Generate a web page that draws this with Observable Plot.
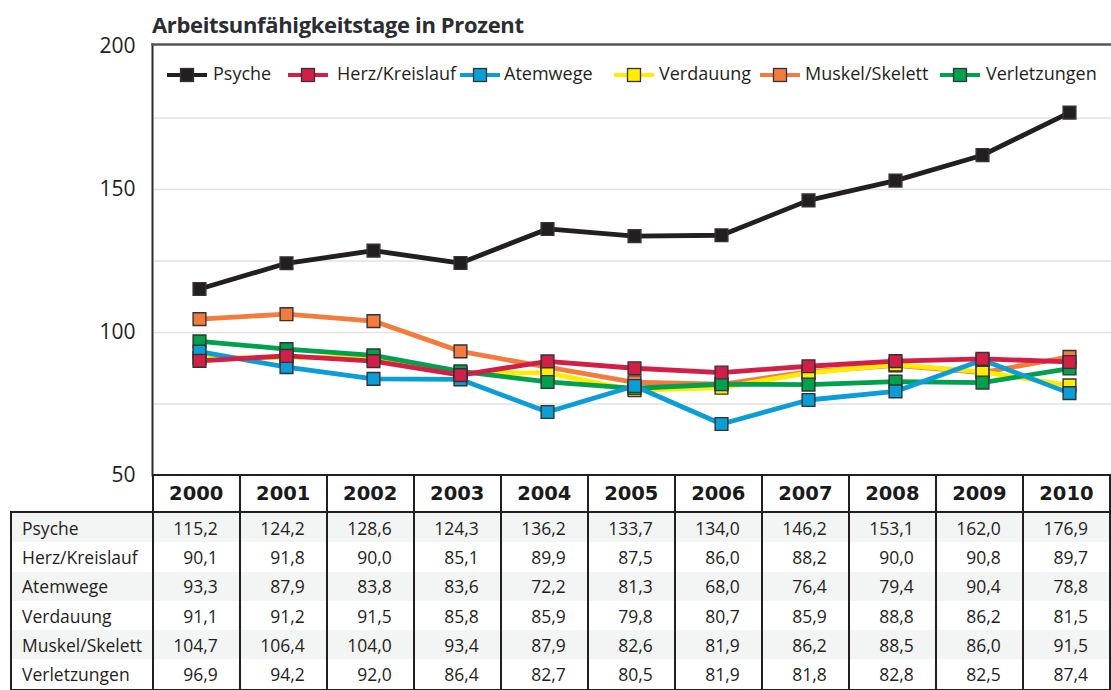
<!DOCTYPE html>
<html><head><meta charset="utf-8">
<script src="https://cdn.jsdelivr.net/npm/d3@7"></script>
<script src="https://cdn.jsdelivr.net/npm/@observablehq/plot@0.6"></script>
<style>
html,body{margin:0;padding:0;background:#fff;}
#wrap{position:relative;width:1111px;height:690px;overflow:hidden;font-family:"Open Sans",sans-serif;color:#231f20;}
#title{position:absolute;left:152px;top:9px;font-weight:700;font-size:22px;color:#2b2d33;letter-spacing:-0.35px;white-space:nowrap;line-height:30px;}
#chart{position:absolute;left:0;top:0;}
#chart svg{overflow:visible;}
#legend{position:absolute;left:0;top:62px;height:24px;width:1111px;}
.sym{position:absolute;top:4px;}
.lt{position:absolute;top:-1px;font-size:18px;white-space:nowrap;line-height:24px;color:#231f20;}
table{position:absolute;left:10px;top:474px;border-collapse:collapse;table-layout:fixed;}
th{height:35px;font-family:"DejaVu Sans",sans-serif;font-weight:700;font-size:19.5px;text-align:center;border:2px solid #231f20;padding:0;color:#1a1a1a;}
th.blank{border-top:none;border-left:none;background:transparent;}
td{height:29.3px;padding:0;font-size:17.5px;border-left:2px solid #231f20;border-right:2px solid #231f20;text-align:right;padding-right:21px;line-height:20px;color:#231f20;}
td.lab{text-align:left;padding-left:10px;padding-right:0;}
tr.s td{background:#f3f5f4;}
tbody tr:last-child td{border-bottom:2px solid #231f20;}
</style></head>
<body>
<div id="wrap">
  <div id="chart"></div>
  <div id="title">Arbeitsunfähigkeitstage in Prozent</div>
  <div id="legend"></div>
</div>
<script>
// ---- data ----
const years = [2000, 2001, 2002, 2003, 2004, 2005, 2006, 2007, 2008, 2009, 2010];
const seriesNames = ["Psyche", "Herz/Kreislauf", "Atemwege", "Verdauung", "Muskel/Skelett", "Verletzungen"];
const psyche        = [115.2, 124.2, 128.6, 124.3, 136.2, 133.7, 134.0, 146.2, 153.1, 162.0, 176.9];
const herzKreislauf = [90.1, 91.8, 90.0, 85.1, 89.9, 87.5, 86.0, 88.2, 90.0, 90.8, 89.7];
const atemwege      = [93.3, 87.9, 83.8, 83.6, 72.2, 81.3, 68.0, 76.4, 79.4, 90.4, 78.8];
const verdauung     = [91.1, 91.2, 91.5, 85.8, 85.9, 79.8, 80.7, 85.9, 88.8, 86.2, 81.5];
const muskelSkelett = [104.7, 106.4, 104.0, 93.4, 87.9, 82.6, 81.9, 86.2, 88.5, 86.0, 91.5];
const verletzungen  = [96.9, 94.2, 92.0, 86.4, 82.7, 80.5, 81.9, 81.8, 82.8, 82.5, 87.4];
const yTicks = [50, 100, 150, 200];
const gridValues = [75, 100, 125, 150, 175];

// ---- styles ----
const colors = {
  "Psyche": "#231f20",
  "Herz/Kreislauf": "#d31f48",
  "Atemwege": "#0b9dd6",
  "Verdauung": "#ffec00",
  "Muskel/Skelett": "#f47b3e",
  "Verletzungen": "#00a04f"
};
const drawOrder = ["Muskel/Skelett", "Verdauung", "Verletzungen", "Atemwege", "Herz/Kreislauf", "Psyche"];
const legendLayout = [[187, 213], [308, 337], [480, 504], [634, 659], [780, 805], [960, 986]];

const valuesBySeries = {
  "Psyche": psyche, "Herz/Kreislauf": herzKreislauf, "Atemwege": atemwege,
  "Verdauung": verdauung, "Muskel/Skelett": muskelSkelett, "Verletzungen": verletzungen
};
const rows = [];
for (const s of drawOrder) valuesBySeries[s].forEach((v, i) => rows.push({series: s, year: years[i], value: v}));

const plot = Plot.plot({
  width: 1111,
  height: 500,
  marginLeft: 152,
  marginRight: 0,
  marginTop: 44,
  marginBottom: 25,
  x: {type: "point", domain: years, padding: 0.5, range: [152, 1115.6], axis: null},
  y: {domain: [50, 200.7], axis: null, label: null},
  color: {domain: seriesNames, range: seriesNames.map(s => colors[s])},
  style: {fontFamily: "Open Sans, sans-serif", background: "transparent"},
  marks: [
    Plot.gridY(gridValues, {stroke: "#e2e2e2", strokeOpacity: 1, strokeWidth: 1.5}),
    Plot.axisY(yTicks, {tickSize: 0, tickPadding: 17, fontSize: 21, fill: "#231f20", label: null}),
    Plot.frame({anchor: "left", stroke: "#2d2d2d", strokeWidth: 2}),
    Plot.frame({anchor: "top", stroke: "#555", strokeWidth: 2.5}),
    Plot.line(rows, {x: "year", y: "value", z: "series", stroke: "series", strokeWidth: 4.8, strokeLinejoin: "round"}),
    Plot.dot(rows, {x: "year", y: "value", symbol: "square", r: 7.2, fill: "series", stroke: "#333", strokeWidth: 1.4})
  ]
});
document.getElementById("chart").appendChild(plot);

// ---- legend ----
const leg = document.getElementById("legend");
seriesNames.forEach((s, i) => {
  const [cx, tx] = legendLayout[i];
  const c = colors[s];
  const sym = document.createElement("div");
  sym.className = "sym";
  sym.style.left = (cx - 20) + "px";
  sym.innerHTML = `<svg width="40" height="16"><line x1="0" y1="8" x2="40" y2="8" stroke="${c}" stroke-width="4"/><rect x="13.5" y="1.5" width="13" height="13" fill="${c}" stroke="#333" stroke-width="1.3"/></svg>`;
  leg.appendChild(sym);
  const t = document.createElement("div");
  t.className = "lt";
  t.style.left = tx + "px";
  t.textContent = s;
  leg.appendChild(t);
});

// ---- table ----
const fmt = v => v.toFixed(1).replace(".", ",");
const table = document.createElement("table");
const colgroup = document.createElement("colgroup");
colgroup.innerHTML = `<col style="width:142px">` + years.map(() => `<col style="width:87.6px">`).join("");
table.appendChild(colgroup);
const thead = document.createElement("thead");
thead.innerHTML = `<tr><th class="blank"></th>${years.map(y => `<th>${y}</th>`).join("")}</tr>`;
table.appendChild(thead);
const tbody = document.createElement("tbody");
seriesNames.forEach((s, i) => {
  const tr = document.createElement("tr");
  if (i % 2 === 0) tr.className = "s";
  tr.innerHTML = `<td class="lab">${s}</td>` + valuesBySeries[s].map(v => `<td>${fmt(v)}</td>`).join("");
  tbody.appendChild(tr);
});
table.appendChild(tbody);
document.getElementById("wrap").appendChild(table);
</script>
</body></html>
